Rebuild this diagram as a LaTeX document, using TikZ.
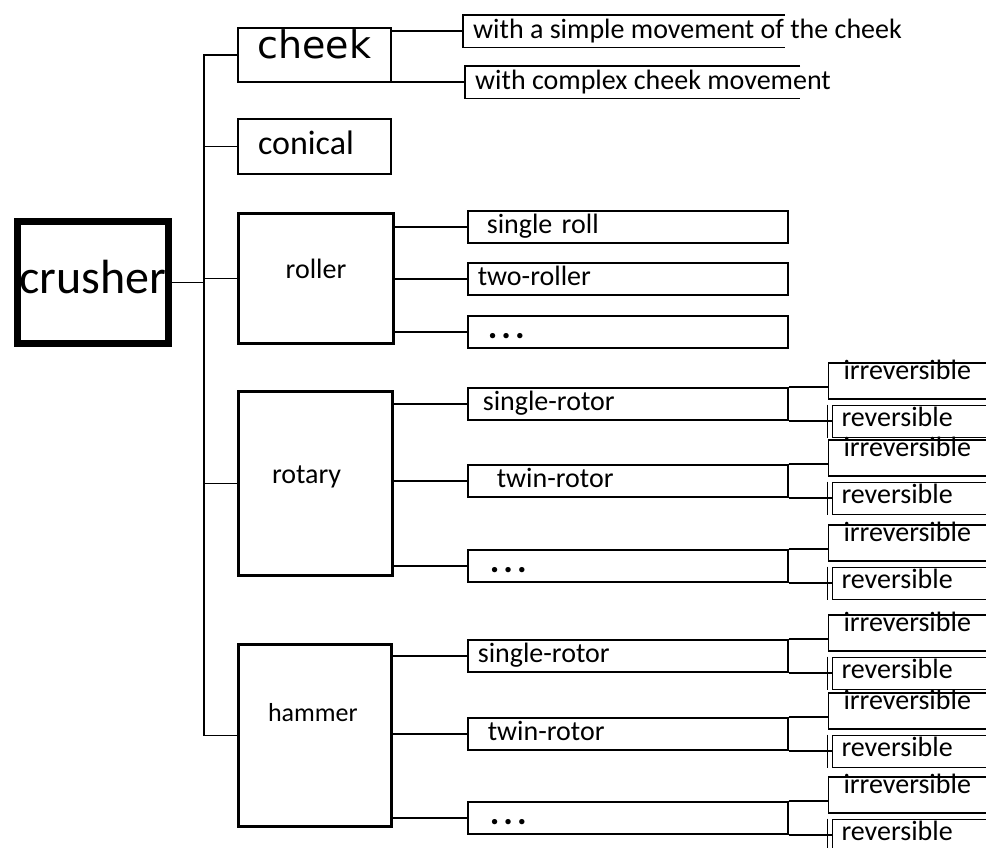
\documentclass[tikz,border=0pt]{standalone}
\usepackage{fontspec}
\setmainfont{Carlito}
\newfontfamily\cheekfont{DejaVu Sans}
\usetikzlibrary{calc}
\tikzstyle{big}=[draw, line width=2.6pt, inner sep=0pt]
\tikzstyle{kid}=[draw, line width=1.6pt, anchor=north west, minimum height=32pt, text width=290pt, inner xsep=15pt, inner ysep=0pt, align=left, text height=20pt, text depth=7pt, font=\fontsize{28}{32}\selectfont]
\tikzstyle{note}=[anchor=north west, minimum height=32pt, inner xsep=10pt, inner ysep=0pt, text height=21pt, text depth=6pt, font=\fontsize{28}{32}\selectfont]
\tikzstyle{irr}=[draw, line width=1.8pt, anchor=north west, minimum height=36pt, text width=180pt, inner xsep=15pt, inner ysep=0pt, align=left, text height=17pt, text depth=19pt, font=\fontsize{28}{32}\selectfont]
\tikzstyle{rev}=[irr, minimum height=32pt, inner xsep=9pt, text height=20pt, text depth=11pt]
\tikzstyle{link}=[line width=1.8pt]
\newcommand{\moredots}{{\fontsize{36}{36}\selectfont\bfseries .\hspace{4pt}.\hspace{4pt}.}}

\begin{document}
\begin{tikzpicture}[x=1pt,y=-1pt]
	\useasboundingbox (0,0) rectangle (986,847);
	\clip (0,0) rectangle (986,847);
	\node[draw, line width=7pt, minimum width=151pt, minimum height=122pt, inner sep=0pt, text height=34pt, text depth=12pt, font=\fontsize{48}{50}\selectfont] (crusher) at (93,282.5) {crusher};
	\coordinate (trunk) at (204,0);

	\node[big, line width=2pt, minimum width=153pt, minimum height=54pt, text height=28pt, text depth=21pt, font=\cheekfont\fontsize{38}{40}\selectfont] (cheek) at (314.5,55) {cheek};
	\node[big, minimum width=153pt, minimum height=55pt, text width=113pt, align=left, text height=24pt, text depth=8pt, font=\fontsize{34}{36}\selectfont] (conical) at (314.5,146.5) {conical};
	\node[big, minimum width=155pt, minimum height=130pt, text height=20pt, text depth=20pt, font=\fontsize{28}{30}\selectfont] (roller) at (316,278.5) {roller};
	\node[big, minimum width=154pt, minimum height=184pt, text width=87pt, align=left, text height=20pt, text depth=20pt, font=\fontsize{28}{30}\selectfont] (rotary) at (315.5,483.5) {rotary};
	\node[big, minimum width=153pt, minimum height=182pt, text width=94pt, align=left, text height=18pt, text depth=46pt, font=\fontsize{26}{28}\selectfont] (hammer) at (315,735.5) {hammer};

	\draw[link] (crusher.east) -- (crusher.east -| trunk);
	\draw[link] (cheek.west) -- (cheek.west -| trunk) |- (hammer.west);
	\foreach \n in {conical,roller,rotary}
		\draw[link] (\n.west) -- (\n.west -| trunk);

	% cheek: boxes open on the right
	\node[note] (simple) at (463,15) {with a simple movement of the cheek};
	\node[note] (complex) at (465,66) {with complex cheek movement};
	\draw[line width=1.6pt] ($(simple.north west)+(322,0)$) -- (simple.north west) -- (simple.south west) -- ($(simple.south west)+(322,0)$);
	\draw[line width=1.6pt] ($(complex.north west)+(335,0)$) -- (complex.north west) -- (complex.south west) -- ($(complex.south west)+(335,0)$);
	\draw[link] (cheek.east |- simple.west) -- (simple.west);
	\draw[link] (cheek.east |- complex.west) -- (complex.west);

	\node[kid] (roll1) at (467,210) {\hspace{4pt}single roll};
	\node[kid] (roll2) at (467,262) {\hspace{-5pt}two-roller};
	\node[kid] (roll3) at (467,315) {\hspace{5pt}\moredots};
	\foreach \k in {roll1,roll2,roll3}
		\draw[link] (roller.east |- \k.west) -- (\k.west);

	\node[kid] (rot1) at (467,387) {single-rotor};
	\node[kid] (rot2) at (467,464) {\hspace{14pt}twin-rotor};
	\node[kid] (rot3) at (467,549) {\hspace{7pt}\moredots};
	\foreach \k in {rot1,rot2,rot3}
		\draw[link] (rotary.east |- \k.west) -- (\k.west);

	\node[kid] (ham1) at (467,639) {\hspace{-5pt}single-rotor};
	\node[kid] (ham2) at (467,717) {\hspace{5pt}twin-rotor};
	\node[kid] (ham3) at (467,801) {\hspace{7pt}\moredots};
	\foreach \k in {ham1,ham2,ham3}
		\draw[link] (hammer.east |- \k.west) -- (\k.west);

	\foreach \k in {rot1,rot2,rot3,ham1,ham2,ham3}{
		\node[irr] (\k-irr) at ($(\k.north east)+(39,-25)$) {irreversible};
		\node[rev] (\k-rev) at ($(\k.south east)+(43,-16)$) {reversible};
		\draw[link] (\k.north east) -- (\k.north east -| \k-irr.west);
		\draw[link] (\k.south east) -- (\k.south east -| \k-rev.west);
		\draw[line width=1.4pt] ([xshift=-4pt]\k-rev.north west) -- ([xshift=-4pt]\k-rev.south west);
	}
\end{tikzpicture}
\end{document}
